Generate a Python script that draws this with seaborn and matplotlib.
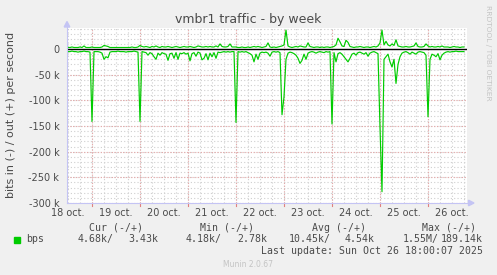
import numpy as np
import pandas as pd
import matplotlib
matplotlib.use("Agg")
import matplotlib.pyplot as plt
import matplotlib.dates as mdates
from matplotlib.transforms import Affine2D, blended_transform_factory
from matplotlib.lines import Line2D
from matplotlib.patches import Polygon, Rectangle
import seaborn as sns

# ---------------- data (k bits per second, hourly from 18 Oct 12:00) ----------------
in_k = [
    -5, -5, -4, -5, -5, -6, -5, -5, -4, -5,
    -5, -6, -141, -5, -5, -5, -6, -8, -20, -15,
    -17, -6, -5, -5, -5, -4, -5, -5, -5, -6,
    -5, -5, -5, -4, -5, -6, -141, -5, -6, -7,
    -12, -7, -9, -15, -20, -8, -12, -7, -9, -10,
    -22, -9, -8, -18, -7, -20, -8, -9, -7, -10,
    -8, -23, -9, -7, -14, -6, -8, -21, -18, -9,
    -21, -8, -15, -7, -18, -6, -7, -6, -5, -6,
    -5, -6, -5, -5, -143, -5, -6, -5, -6, -5,
    -7, -9, -12, -25, -10, -20, -8, -6, -7, -6,
    -8, -14, -6, -5, -6, -5, -7, -128, -93, -20,
    -8, -6, -7, -9, -12, -18, -28, -22, -10, -20,
    -8, -6, -5, -6, -8, -6, -5, -6, -7, -5,
    -6, -5, -146, -7, -25, -9, -7, -10, -15, -20,
    -25, -18, -10, -8, -12, -7, -6, -8, -10, -7,
    -14, -8, -6, -5, -7, -9, -153, -278, -20, -15,
    -10, -25, -35, -20, -67, -30, -15, -8, -6, -5,
    -7, -10, -6, -8, -10, -6, -5, -6, -7, -12,
    -132, -20, -10, -12, -15, -9, -21, -12, -8, -6,
    -5, -6, -5, -5, -4, -5, -5, -5, -5,
]
out_k = [
    3, 3, 4, 3, 3, 3, 4, 3, 6, 3,
    3, 3, 4, 3, 3, 3, 3, 4, 7, 6,
    5, 3, 3, 3, 3, 3, 3, 3, 3, 3,
    3, 3, 4, 3, 3, 4, 7, 5, 4, 5,
    4, 3, 5, 4, 6, 4, 3, 5, 4, 4,
    5, 4, 3, 4, 5, 4, 3, 4, 5, 4,
    4, 5, 4, 3, 4, 6, 5, 4, 4, 5,
    4, 5, 4, 4, 6, 4, 10, 5, 4, 4,
    5, 10, 4, 4, 4, 3, 3, 4, 3, 3,
    4, 3, 4, 5, 4, 5, 4, 3, 4, 5,
    12, 4, 3, 4, 3, 4, 5, 6, 8, 37,
    6, 4, 3, 4, 5, 4, 6, 5, 4, 4,
    12, 5, 4, 3, 4, 4, 3, 4, 3, 4,
    4, 3, 4, 5, 8, 21, 14, 6, 5, 17,
    13, 5, 4, 3, 4, 4, 5, 4, 3, 4,
    4, 3, 4, 5, 4, 6, 12, 37, 8, 15,
    8, 6, 10, 7, 18, 6, 5, 4, 4, 5,
    4, 4, 5, 6, 12, 5, 4, 4, 5, 10,
    6, 4, 5, 4, 4, 5, 4, 6, 4, 4,
    4, 3, 4, 5, 4, 4, 3, 4, 4,
]
y_ticks = [0, -50, -100, -150, -200, -250, -300]
y_tick_labels = ["0", "-50 k", "-100 k", "-150 k", "-200 k", "-250 k", "-300 k"]
day_labels = ["18 oct.", "19 oct.", "20 oct.", "21 oct.", "22 oct.",
              "23 oct.", "24 oct.", "25 oct.", "26 oct."]
legend_headers = ["Cur (-/+)", "Min (-/+)", "Avg (-/+)", "Max (-/+)"]
legend_in = ["4.68k/", "4.18k/", "10.45k/", "1.55M/"]
legend_out = ["3.43k", "2.78k", "4.54k", "189.14k"]
last_update = "Last update: Sun Oct 26 18:00:07 2025"

start = pd.Timestamp("2025-10-18 12:00")
times = pd.date_range(start, periods=len(in_k), freq="h")
df = pd.DataFrame({"time": times, "in": in_k, "out": out_k})

W, H = 497, 275
TXT = "#4a4a4a"
GREEN = "#00CC00"
AXC = "#c4c4f4"
MGRID = "#e6a8a8"
GRID = "#cfcfcf"

fig = plt.figure(figsize=(W / 100, H / 100), dpi=100, facecolor="#F0F0F0")
PX = Affine2D().scale(1 / W, -1 / H).translate(0, 1) + fig.transFigure

L, R, T, B = 67, 467, 28, 203
ax = fig.add_axes([L / W, (H - B) / H, (R - L) / W, (B - T) / H])
ax.set_facecolor("white")

x0 = pd.Timestamp("2025-10-18 11:30")
x1 = pd.Timestamp("2025-10-26 19:30")

# grid
minor_x = pd.date_range("2025-10-18 12:00", "2025-10-26 18:00", freq="6h")
days = pd.date_range("2025-10-19", "2025-10-26", freq="D")
noons = pd.date_range("2025-10-18 12:00", periods=len(day_labels), freq="D")
for t in minor_x:
    ax.axvline(mdates.date2num(t), color=GRID, lw=0.8, ls=(0, (1, 2)), zorder=0)
for yv in np.arange(-290, 41, 10):
    ax.axhline(yv, color=GRID, lw=0.8, ls=(0, (1, 2)), zorder=0)
for yv in y_ticks[1:]:
    ax.axhline(yv, color=MGRID, lw=0.8, ls=(0, (1, 1.5)), zorder=0.5)
for t in days:
    ax.axvline(mdates.date2num(t), color=MGRID, lw=0.8, ls=(0, (1, 1.5)), zorder=0.5)

ax.axhline(0, color="black", lw=1.0, zorder=2)

sns.lineplot(data=df, x="time", y="in", ax=ax, color=GREEN, lw=0.85, zorder=3)
sns.lineplot(data=df, x="time", y="out", ax=ax, color=GREEN, lw=0.85, zorder=3)

ax.set_xlim(mdates.date2num(x0), mdates.date2num(x1))
ax.set_ylim(-300, 41)
ax.set_xlabel("")
ax.set_ylabel("")
for s in ax.spines.values():
    s.set_visible(False)

ax.set_yticks(y_ticks)
ax.set_yticklabels(y_tick_labels)
ax.set_xticks([mdates.date2num(t) for t in noons])
ax.set_xticklabels(day_labels)
ax.tick_params(axis="both", length=0, labelsize=7, labelcolor=TXT)
ax.tick_params(axis="y", pad=5.5)
ax.tick_params(axis="x", pad=3.5)

# day tick marks below axis
btr = blended_transform_factory(ax.transData, ax.transAxes)
for t in days:
    ax.plot([mdates.date2num(t)] * 2, [0, -3 / 175], color="#e08080", lw=0.8,
            transform=btr, clip_on=False)

# axes lines and arrows
fig.add_artist(Line2D([L, L], [B, 25], color=AXC, lw=0.8, transform=PX))
fig.add_artist(Line2D([L, 470], [B, B], color=AXC, lw=0.8, transform=PX))
fig.add_artist(Polygon([[L, 21.5], [L - 2.8, 27], [L + 2.8, 27]], closed=True,
                       color=AXC, transform=PX))
fig.add_artist(Polygon([[474, B], [468.5, B - 2.8], [468.5, B + 2.8]], closed=True,
                       color=AXC, transform=PX))

def ftext(x, y, s, **kw):
    fig.text(x / W, 1 - y / H, s, **kw)

ftext(248, 23.5, "vmbr1 traffic - by week", ha="center", va="baseline",
      fontsize=9, color=TXT)
ftext(11, 114.5, "bits in (-) / out (+) per second", ha="center", va="center",
      rotation=90, fontsize=8, color=TXT)
ftext(488, 53, "RRDTOOL / TOBI OETIKER", ha="center", va="center", rotation=270,
      fontsize=5.4, color="#c4c4c4")

mono = dict(family="DejaVu Sans Mono", fontsize=7.1, color=TXT, va="baseline")
hx = [89, 200.5, 312, 422.5]
for x, s in zip(hx, legend_headers):
    ftext(x, 230.7, s, ha="left", **mono)
fig.add_artist(Rectangle((14, 236.5), 6, 6, color=GREEN, transform=PX))
ftext(26, 241.7, "bps", ha="left", **mono)
inx = [78, 185.5, 289, 403]
outx = [158.5, 267, 374.5, 483]
for x, s in zip(inx, legend_in):
    ftext(x, 241.7, s, ha="left", **mono)
for x, s in zip(outx, legend_out):
    ftext(x, 241.7, s, ha="right", **mono)
ftext(483, 254.3, last_update, ha="right", **mono)
ftext(248, 266.7, "Munin 2.0.67", ha="center", va="baseline", fontsize=5.5,
      color="#c4c4c4")

fig.savefig("out.png", dpi=100, facecolor=fig.get_facecolor())
